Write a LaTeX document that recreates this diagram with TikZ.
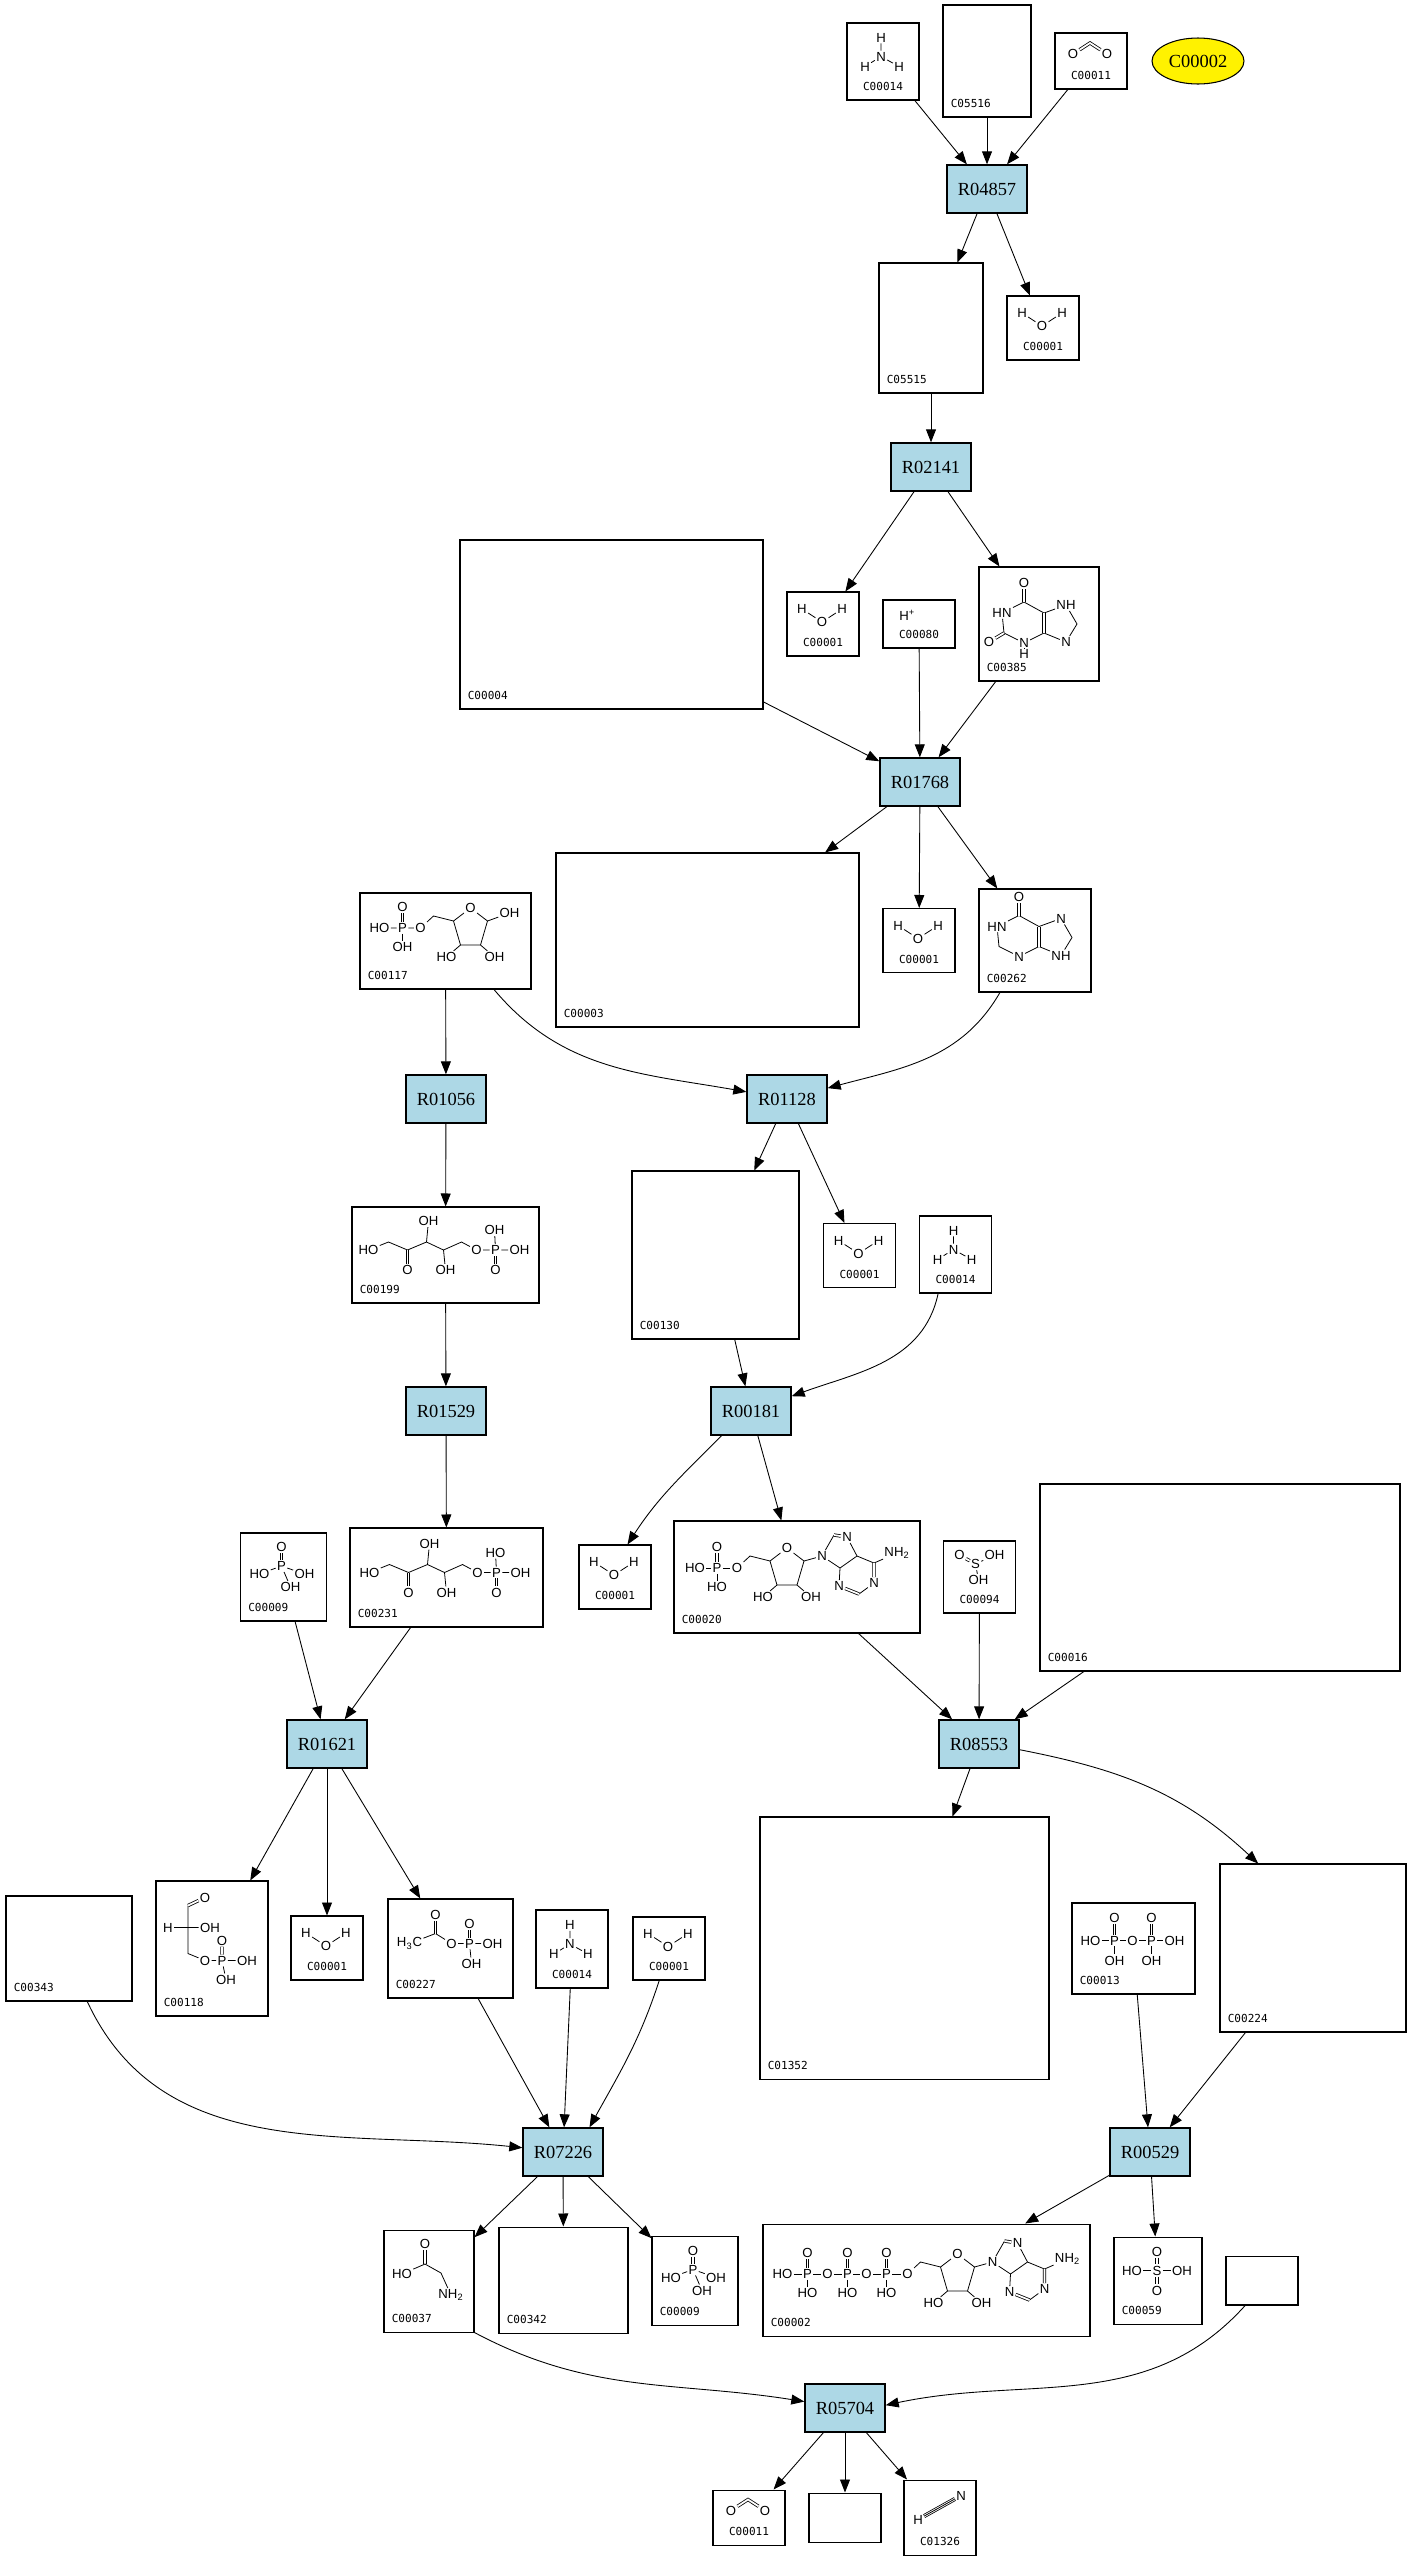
\documentclass[tikz,border=0pt]{standalone}
\usepackage{fontspec}
\setmainfont{Liberation Serif}
\newfontfamily\idfont{DejaVu Sans Mono}
\newfontfamily\atomfont{Liberation Sans}
\usetikzlibrary{arrows.meta,shapes.geometric}
\definecolor{rxnblue}{HTML}{ADD8E6}

\def\rlist{{(987,189)/r4857/R04857}, {(931,467)/r2141/R02141}, {(920,782)/r1768/R01768}, {(446,1099)/r1056/R01056}, {(787,1099)/r1128/R01128}, {(446,1411)/r1529/R01529}, {(751,1411)/r181/R00181}, {(327,1744)/r1621/R01621}, {(979,1744)/r8553/R08553}, {(563,2152)/r7226/R07226}, {(1150,2152)/r529/R00529}, {(845,2408)/r5704/R05704}}
\def\slist{{(883,61.5)/c14a/77/C00014}, {(1091,61)/c11a/56/C00011}, {(1043,328)/c1a/64/C00001}, {(823,624)/c1b/64/C00001}, {(919,624)/c80/48/C00080}, {(919,940.5)/c1c/64/C00001}, {(859.5,1255.5)/c1d/64/C00001}, {(955.5,1254.5)/c14b/77/C00014}, {(615,1577)/c1e/64/C00001}, {(979.5,1577)/c94/72/C00094}, {(327,1948)/c1f/64/C00001}, {(572,1949)/c14c/78/C00014}, {(669,1948.5)/c1g/63/C00001}, {(749,2517.5)/c11b/55/C00011}, {(940,2517.5)/c1326/75/C01326}}
\def\blist{{(987,61)/c5516/88/112/C05516}, {(931,328)/c5515/104/130/C05515}, {(611.5,624.5)/c4/303/169/C00004}, {(1039,624)/c385/120/114/C00385}, {(707.5,940)/c3/303/174/C00003}, {(1035,940.5)/c262/112/103/C00262}, {(445.5,941)/c117/171/96/C00117}, {(445.5,1255)/c199/187/96/C00199}, {(715.5,1255)/c130/167/168/C00130}, {(283.5,1577)/c9a/86/88/C00009}, {(446.5,1577.5)/c231/193/99/C00231}, {(797,1577)/c20/246/112/C00020}, {(1220,1577.5)/c16/360/187/C00016}, {(69,1948.5)/c343/126/105/C00343}, {(212,1948.5)/c118/112/135/C00118}, {(450.5,1948.5)/c227/125/99/C00227}, {(904.5,1948)/c1352/289/262/C01352}, {(1133.5,1948.5)/c13/123/91/C00013}, {(1313,1948)/c224/186/168/C00224}, {(429,2281)/c37/90/102/C00037}, {(563.5,2280)/c342/129/106/C00342}, {(695,2280.5)/c9b/86/89/C00009}, {(926.5,2280)/c2/327/112/C00002}, {(1158,2280.5)/c59/88/87/C00059}}

\tikzstyle{rxn} = [draw, line width=0.8pt, fill=rxnblue, minimum width=1.6cm, minimum height=0.96cm, inner sep=0pt, font=\fontsize{10.5}{12}\selectfont]
\tikzstyle{cpd} = [draw, line width=0.6pt, inner sep=0pt]
\tikzstyle{idlabel} = [inner sep=0pt, font=\idfont\fontsize{6.3}{7}\selectfont]
\tikzstyle{atom} = [inner sep=0.6pt, font=\atomfont\fontsize{7.5}{8}\selectfont]
\tikzstyle{bond} = [draw, line width=0.45pt]
\tikzstyle{dbond} = [draw, line width=0.45pt, double, double distance=1pt]
\tikzstyle{edge} = [draw, line width=0.5pt, -{Triangle[length=0.26cm,width=0.2cm]}]

% small molecules
\def\water#1{
  \node[atom] (#1h1) at ([shift={(-21,-15)}]#1) {H};
  \node[atom] (#1o) at ([shift={(-1,-2)}]#1) {O};
  \node[atom] (#1h2) at ([shift={(19,-15)}]#1) {H};
  \path[bond] (#1h1) -- (#1o) -- (#1h2);
}
\def\ammonia#1{
  \node[atom] (#1ht) at ([shift={(-2,-24)}]#1) {H};
  \node[atom] (#1n) at ([shift={(-2,-5)}]#1) {N};
  \node[atom] (#1hl) at ([shift={(-18,5)}]#1) {H};
  \node[atom] (#1hr) at ([shift={(16,5)}]#1) {H};
  \path[bond] (#1ht) -- (#1n) -- (#1hl) (#1n) -- (#1hr);
}
\def\cotwo#1{
  \node[atom] (#1o1) at ([shift={(-18,-7)}]#1) {O};
  \node[atom] (#1o2) at ([shift={(16,-7)}]#1) {O};
  \coordinate (#1c) at ([shift={(-1,-18)}]#1);
  \path[dbond] (#1o1) -- (#1c) -- (#1o2);
}
\def\phosphate#1{
  \node[atom] (#1ot) at ([shift={(-2,-30)}]#1) {O};
  \node[atom] (#1p) at ([shift={(-2,-11)}]#1) {P};
  \node[atom] (#1hl) at ([shift={(-24,-3)}]#1) {HO};
  \node[atom] (#1hr) at ([shift={(21,-3)}]#1) {OH};
  \node[atom] (#1hb) at ([shift={(7,10)}]#1) {OH};
  \path[dbond] (#1ot) -- (#1p);
  \path[bond] (#1p) -- (#1hl) (#1p) -- (#1hr) (#1p) -- (#1hb);
}
% ketopentose 5-phosphate chain
\def\pentulose#1#2{
  \node[atom] (#1ho) at ([shift={(-77,-5)}]#1) {HO};
  \coordinate (#1k1) at ([shift={(-57,-13)}]#1);
  \coordinate (#1k2) at ([shift={(-38,-5)}]#1);
  \node[atom] (#1ok) at ([shift={(-38,15)}]#1) {O};
  \coordinate (#1k3) at ([shift={(-19,-13)}]#1);
  \node[atom] (#1o3) at ([shift={(-17,-34)}]#1) {OH};
  \coordinate (#1k4) at ([shift={(-2,-5)}]#1);
  \node[atom] (#1o4) at ([shift={(0,15)}]#1) {OH};
  \coordinate (#1k5) at ([shift={(16,-13)}]#1);
  \node[atom] (#1o5) at ([shift={(31,-5)}]#1) {O};
  \node[atom] (#1p) at ([shift={(50,-5)}]#1) {P};
  \node[atom] (#1pr) at ([shift={(74,-5)}]#1) {OH};
  \node[atom] (#1pt) at ([shift={(49,-25)}]#1) {#2};
  \node[atom] (#1pb) at ([shift={(50,15)}]#1) {O};
  \path[bond] (#1ho) -- (#1k1) -- (#1k2) -- (#1k3) -- (#1k4) -- (#1k5) -- (#1o5) -- (#1p) -- (#1pr) (#1k3) -- (#1o3) (#1k4) -- (#1o4) (#1p) -- (#1pt);
  \path[dbond] (#1k2) -- (#1ok) (#1p) -- (#1pb);
}
% furanose ring round the point #2
\def\ribose#1#2{
  \coordinate (#1c4) at ([shift={(-17,-7)}]#2);
  \node[atom] (#1o) at ([shift={(0,-20)}]#2) {O};
  \coordinate (#1c1) at ([shift={(17,-7)}]#2);
  \coordinate (#1c2) at ([shift={(10,17)}]#2);
  \coordinate (#1c3) at ([shift={(-10,17)}]#2);
  \node[atom] (#1h3) at ([shift={(-24,29)}]#2) {HO};
  \node[atom] (#1h2) at ([shift={(24,29)}]#2) {OH};
  \coordinate (#1c5) at ([shift={(-37,-12)}]#2);
  \node[atom] (#1o5) at ([shift={(-50,0)}]#2) {O};
  \path[bond] (#1c4) -- (#1o) -- (#1c1) -- (#1c2) -- (#1c3) -- (#1c4) -- (#1c5) -- (#1o5) (#1c3) -- (#1h3) (#1c2) -- (#1h2);
}
\def\adenine#1#2{
  \node[atom] (#1n9) at ([shift={(35,-12)}]#2) {N};
  \coordinate (#1c8) at ([shift={(47,-33)}]#2);
  \node[atom] (#1n7) at ([shift={(60,-31)}]#2) {N};
  \coordinate (#1c5a) at ([shift={(70,-12)}]#2);
  \coordinate (#1c4a) at ([shift={(53,0)}]#2);
  \coordinate (#1c6) at ([shift={(87,-5)}]#2);
  \node[atom] (#1n1) at ([shift={(87,15)}]#2) {N};
  \coordinate (#1c2a) at ([shift={(72,26)}]#2);
  \node[atom] (#1n3) at ([shift={(52,18)}]#2) {N};
  \node[atom] (#1nh) at ([shift={(110,-15)}]#2) {NH\textsubscript{2}};
  \path[bond] (#1c1) -- (#1n9) -- (#1c8) (#1n7) -- (#1c5a) -- (#1c4a) -- (#1n9) (#1c5a) -- (#1c6) -- (#1nh) (#1n1) -- (#1c2a) (#1n3) -- (#1c4a);
  \path[dbond] (#1c8) -- (#1n7) (#1c6) -- (#1n1) (#1c2a) -- (#1n3);
}
\def\phos#1#2#3#4{
  \node[atom] (#1) at ([shift={(#3,0)}]#2) {P};
  \node[atom] (#1t) at ([shift={(#3,-21)}]#2) {O};
  \node[atom] (#1b) at ([shift={(#3,19)}]#2) {#4};
  \path[dbond] (#1) -- (#1t);
  \path[bond] (#1) -- (#1b);
}
% oxopurine: 6-ring left, 5-ring right; #3..#6 are the texts at N1, N3, N7, N9
\def\purine#1#2#3#4#5#6{
  \node[atom] (#1o6) at ([shift={(-15,-41)}]#2) {O};
  \coordinate (#1c6) at ([shift={(-15,-22)}]#2);
  \node[atom] (#1n1) at ([shift={(-37,-11)}]#2) {#3};
  \coordinate (#1c2) at ([shift={(-35,9)}]#2);
  \node[atom] (#1n3) at ([shift={(-15,19)}]#2) {#4};
  \coordinate (#1c4) at ([shift={(5,9)}]#2);
  \coordinate (#1c5) at ([shift={(5,-11)}]#2);
  \node[atom] (#1n7) at ([shift={(27,-19)}]#2) {#5};
  \coordinate (#1c8) at ([shift={(38,0)}]#2);
  \node[atom] (#1n9) at ([shift={(27,18)}]#2) {#6};
  \path[bond] (#1c6) -- (#1n1) -- (#1c2) -- (#1n3) -- (#1c4) (#1c5) -- (#1c6) (#1c5) -- (#1n7) -- (#1c8) -- (#1n9) -- (#1c4);
  \path[dbond] (#1c6) -- (#1o6) (#1c4) -- (#1c5);
}

\begin{document}
\begin{tikzpicture}[x=0.02cm, y=-0.02cm]
  \useasboundingbox (0,0) rectangle (1411,2560);

  \foreach \pos/\name/\id in \rlist {
    \node[rxn] (\name) at \pos {\id};
  }
  \foreach \pos/\name/\h/\id in \slist {
    \node[cpd, minimum width=1.44cm, minimum height=\h*0.02cm] (\name) at \pos {};
    \node[idlabel] at ([yshift=0.28cm]\name.south) {\id};
  }
  \foreach \pos/\name/\w/\h/\id in \blist {
    \node[cpd, minimum width=\w*0.02cm, minimum height=\h*0.02cm] (\name) at \pos {};
    \node[idlabel, anchor=west] at ([xshift=0.16cm, yshift=0.28cm]\name.south west) {\id};
  }
  \node[cpd, minimum width=1.44cm, minimum height=0.98cm] (e1) at (1262,2280.5) {};
  \node[cpd, minimum width=1.44cm, minimum height=0.98cm] (e2) at (845,2517.5) {};
  \node[ellipse, draw, line width=0.6pt, fill=yellow, minimum width=1.84cm, minimum height=0.92cm, inner sep=0pt, font=\fontsize{10.5}{12}\selectfont] (c2y) at (1198,61) {C00002};

  % structures drawn in the boxes
  \foreach \n in {c1a, c1b, c1c, c1d, c1e, c1f, c1g} {\water{\n}}
  \foreach \n in {c14a, c14b, c14c} {\ammonia{\n}}
  \foreach \n in {c11a, c11b} {\cotwo{\n}}
  \foreach \n in {c9a, c9b} {\phosphate{\n}}
  \pentulose{c199}{OH}
  \pentulose{c231}{HO}
  \node[atom, anchor=west] at ([shift={(-21,-9)}]c80) {H\textsuperscript{+}};
  \node[atom] (hcnh) at ([shift={(-22,2)}]c1326) {H};
  \node[atom] (hcnn) at ([shift={(21,-22)}]c1326) {N};
  \path[bond, double, double distance=1.4pt] (hcnh) -- (hcnn);
  \path[bond] (hcnh) -- (hcnn);
  % sulfite
  \node[atom] (so3o) at ([shift={(-20,-22)}]c94) {O};
  \node[atom] (so3s) at ([shift={(-4,-13)}]c94) {S};
  \node[atom] (so3h1) at ([shift={(15,-22)}]c94) {OH};
  \node[atom] (so3h2) at ([shift={(-1,3)}]c94) {OH};
  \path[dbond] (so3o) -- (so3s);
  \path[bond] (so3s) -- (so3h1) (so3s) -- (so3h2);
  % sulfate
  \node[atom] (so4s) at ([shift={(-1,-10)}]c59) {S};
  \node[atom] (so4hl) at ([shift={(-26,-10)}]c59) {HO};
  \node[atom] (so4hr) at ([shift={(24,-10)}]c59) {OH};
  \node[atom] (so4ot) at ([shift={(-1,-29)}]c59) {O};
  \node[atom] (so4ob) at ([shift={(-1,10)}]c59) {O};
  \path[dbond] (so4ot) -- (so4s) -- (so4ob);
  \path[bond] (so4hl) -- (so4s) -- (so4hr);
  % diphosphate
  \node[atom] (ppha) at ([shift={(-43,-8)}]c13) {HO};
  \node[atom] (ppp1) at ([shift={(-19,-8)}]c13) {P};
  \node[atom] (ppo) at ([shift={(-1,-8)}]c13) {O};
  \node[atom] (ppp2) at ([shift={(18,-8)}]c13) {P};
  \node[atom] (pphb) at ([shift={(41,-8)}]c13) {OH};
  \node[atom] (ppo1) at ([shift={(-19,-31)}]c13) {O};
  \node[atom] (ppo2) at ([shift={(18,-31)}]c13) {O};
  \node[atom] (pph1) at ([shift={(-19,12)}]c13) {OH};
  \node[atom] (pph2) at ([shift={(18,12)}]c13) {OH};
  \path[bond] (ppha) -- (ppp1) -- (ppo) -- (ppp2) -- (pphb) (ppp1) -- (pph1) (ppp2) -- (pph2);
  \path[dbond] (ppo1) -- (ppp1) (ppo2) -- (ppp2);
  % glycine
  \node[atom] (glyo) at ([shift={(-4,-37)}]c37) {O};
  \coordinate (glyc) at ([shift={(-4,-17)}]c37);
  \node[atom] (glyh) at ([shift={(-27,-7)}]c37) {HO};
  \coordinate (glyca) at ([shift={(12,-8)}]c37);
  \node[atom] (glyn) at ([shift={(22,14)}]c37) {NH\textsubscript{2}};
  \path[dbond] (glyo) -- (glyc);
  \path[bond] (glyh) -- (glyc) -- (glyca) -- (glyn);
  % acetyl phosphate
  \node[atom] (acme) at ([shift={(-41,-5)}]c227) {H\textsubscript{3}C};
  \coordinate (acc) at ([shift={(-15,-15)}]c227);
  \node[atom] (acoc) at ([shift={(-15,-34)}]c227) {O};
  \node[atom] (aco) at ([shift={(1,-5)}]c227) {O};
  \node[atom] (acp) at ([shift={(19,-5)}]c227) {P};
  \node[atom] (acpt) at ([shift={(19,-25)}]c227) {O};
  \node[atom] (acpr) at ([shift={(42,-5)}]c227) {OH};
  \node[atom] (acpb) at ([shift={(21,15)}]c227) {OH};
  \path[bond] (acme) -- (acc) -- (aco) -- (acp) -- (acpr) (acp) -- (acpb);
  \path[dbond] (acc) -- (acoc) (acp) -- (acpt);
  % glyceraldehyde 3-phosphate
  \node[atom] (gapo) at ([shift={(-7,-51)}]c118) {O};
  \coordinate (gap1) at ([shift={(-24,-43)}]c118);
  \coordinate (gap2) at ([shift={(-24,-21)}]c118);
  \node[atom] (gaph) at ([shift={(-44,-21)}]c118) {H};
  \node[atom] (gapoh) at ([shift={(-2,-21)}]c118) {OH};
  \coordinate (gap3) at ([shift={(-24,5)}]c118);
  \node[atom] (gapo3) at ([shift={(-7,12)}]c118) {O};
  \node[atom] (gapp) at ([shift={(10,12)}]c118) {P};
  \node[atom] (gappr) at ([shift={(35,12)}]c118) {OH};
  \node[atom] (gappt) at ([shift={(10,-8)}]c118) {O};
  \node[atom] (gappb) at ([shift={(14,31)}]c118) {OH};
  \path[bond] (gap1) -- (gap2) -- (gap3) -- (gapo3) -- (gapp) -- (gappr) (gaph) -- (gap2) -- (gapoh) (gapp) -- (gappb);
  \path[dbond] (gap1) -- (gapo) (gapp) -- (gappt);
  % ribose 5-phosphate
  \coordinate (r5rc) at ([shift={(25,-13)}]c117);
  \ribose{r5}{r5rc}
  \phos{r5p}{r5rc}{-68}{OH}
  \node[atom] (r5ph) at ([shift={(-91,0)}]r5rc) {HO};
  \node[atom] (r5h1) at ([shift={(39,-15)}]r5rc) {OH};
  \path[bond] (r5ph) -- (r5p) -- (r5o5) (r5c1) -- (r5h1);
  % AMP
  \coordinate (amrc) at ([shift={(-10,-9)}]c20);
  \ribose{am}{amrc}
  \adenine{am}{amrc}
  \phos{amp}{amrc}{-70}{HO}
  \node[atom] (amph) at ([shift={(-92,0)}]amrc) {HO};
  \path[bond] (amph) -- (amp) -- (amo5);
  % ATP
  \coordinate (atrc) at ([shift={(31,-6)}]c2);
  \ribose{at}{atrc}
  \adenine{at}{atrc}
  \phos{atpa}{atrc}{-71}{HO}
  \phos{atpb}{atrc}{-110}{HO}
  \phos{atpc}{atrc}{-150}{HO}
  \node[atom] (atob) at ([shift={(-91,0)}]atrc) {O};
  \node[atom] (atoc) at ([shift={(-130,0)}]atrc) {O};
  \node[atom] (atph) at ([shift={(-175,0)}]atrc) {HO};
  \path[bond] (atph) -- (atpc) -- (atoc) -- (atpb) -- (atob) -- (atpa) -- (ato5);
  % xanthine and hypoxanthine
  \purine{xa}{c385}{HN}{N}{NH}{N}
  \node[atom] (xao2) at ([shift={(-50,18)}]c385) {O};
  \node[atom] (xah3) at ([shift={(-15,30)}]c385) {H};
  \path[dbond] (xac2) -- (xao2);
  \path[bond] (xan3) -- (xah3);
  \coordinate (hxc) at ([shift={(-1,-3)}]c262);
  \purine{hx}{hxc}{HN}{N}{N}{NH}

  % reactions
  \foreach \source/\sink in {c14a/r4857, c5516/r4857, c11a/r4857, r4857/c5515, r4857/c1a, c5515/r2141, r2141/c1b, r2141/c385, c4/r1768, c80/r1768, c385/r1768, r1768/c3, r1768/c1c, r1768/c262, c117/r1056, r1056/c199, r1128/c130, r1128/c1d, c199/r1529, c130/r181, r1529/c231, r181/c20, c9a/r1621, c231/r1621, c20/r8553, c94/r8553, c16/r8553, r1621/c118, r1621/c1f, r1621/c227, r8553/c1352, c227/r7226, c14c/r7226, c13/r529, c224/r529, r7226/c37, r7226/c342, r7226/c9b, r529/c2, r529/c59, r5704/c11b, r5704/e2, r5704/c1326} {
    \path[edge] (\source) -- (\sink);
  }
  \path[edge] (c117.-45) to[out=-50,in=170] (r1128);
  \path[edge] (c262.-124) to[out=-120,in=15] (r1128);
  \path[edge] (c14b.-114) to[out=-102,in=20] (r181);
  \path[edge] (r181.-140) to[out=-135,in=57] (c1e.69);
  \path[edge] (r8553.-8) to[out=-11,in=137] (c224.123);
  \path[edge] (c343.-71) to[out=-65,in=174] (r7226);
  \path[edge] (c1g.-107) to[out=-108,in=61] (r7226.43);
  \path[edge] (c37.south east) to[out=-28,in=171] (r5704);
  \path[edge] (e1.-124) to[out=-132,in=12] (r5704.4);
\end{tikzpicture}
\end{document}
